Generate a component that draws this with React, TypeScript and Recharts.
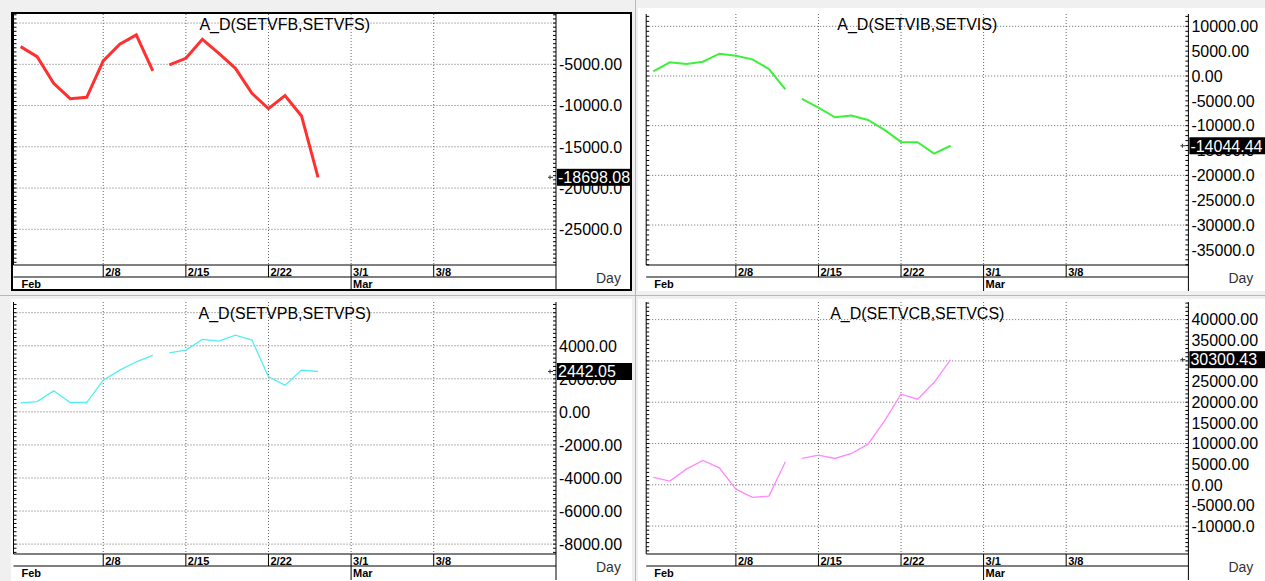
import React from "react";
import { LineChart, Line, XAxis, YAxis, CartesianGrid } from "recharts";

// trading days shown on the charts
const days = ["2/1", "2/2", "2/3", "2/4", "2/5", "2/8", "2/9", "2/10", "2/11", "2/12",
  "2/15", "2/16", "2/17", "2/18", "2/19", "2/22", "2/23", "2/24", "2/25"];

const vfValues = [-2859, -4071, -7303, -9162, -9000, -4596, -2576, -1445, -5808, -5081,
  -4273, -1970, -3667, -5485, -8515, -10373, -8798, -11262, -18698.08];
const viValues = [938, 2747, 2412, 2881, 4489, 4087, 3350, 1407, -2680, -4623,
  -6365, -8308, -7973, -8844, -10854, -13266, -13333, -15611, -14044.44];
const vpValues = [545, 626, 1273, 566, 566, 1919, 2525, 3030, 3414, 3575,
  3737, 4383, 4282, 4646, 4343, 2121, 1616, 2525, 2442.05];
const vcValues = [1774, 887, 3790, 5887, 4113, -1048, -3065, -2742, 5565, 6371,
  7178, 6371, 7581, 9839, 15484, 21936, 20726, 24758, 30300.43];

// line is broken before this day
const BREAK = 9;

const weekTicks = [5, 10, 15, 20, 25];
const weekLabels = ["2/8", "2/15", "2/22", "3/1", "3/8"];
const X_MIN = -0.43;
const X_MAX = 32.4;
const monthTicks = [X_MIN, 20];
const monthLabels = ["Feb", "Mar"];

const vfLabels = [-5000, -10000, -15000, -20000, -25000];
const vfGrid = [0, -5000, -10000, -15000, -20000, -25000];
const viLabels = [10000, 5000, 0, -5000, -10000, -15000, -20000, -25000, -30000, -35000];
const viGrid = [10000, 0, -10000, -20000, -30000];
const vpLabels = [4000, 2000, 0, -2000, -4000, -6000, -8000];
const vpGrid = [6000, 4000, 2000, 0, -2000, -4000, -6000, -8000];
const vcLabels = [40000, 35000, 30000, 25000, 20000, 15000, 10000, 5000, 0, -5000, -10000];
const vcGrid = [40000, 30000, 20000, 10000, 0, -10000];

const AXIS_H = 26;
const FONT = "'Liberation Sans', Arial, sans-serif";

const fmt = (v: number) => v.toFixed(2).slice(0, 8);

function toRows(values: number[]) {
  return days.map((d, i) => ({
    i,
    d,
    a: i < BREAK ? values[i] : null,
    b: i >= BREAK ? values[i] : null,
  }));
}

function Panel(p: any) {
  const plotL = p.marginLeft;
  const plotW = p.width - p.marginLeft - p.axisWidth;
  const plotR = plotL + plotW;
  const plotH = p.height - AXIS_H;
  const last = p.values[p.values.length - 1];

  const minor: number[] = [];
  for (let v = Math.ceil(p.domain[0] / p.minorStep) * p.minorStep; v <= p.domain[1]; v += p.minorStep) minor.push(v);
  const yTicks = [...minor, ...p.labels, last];
  const nMinor = minor.length;
  const nLab = p.labels.length;

  const renderY = (t: any) => {
    const { y, index } = t;
    if (index < nMinor) {
      return (
        <g>
          <line x1={plotL} x2={plotL + 3} y1={y} y2={y} stroke="#000" />
          <line x1={plotR - 3} x2={plotR} y1={y} y2={y} stroke="#000" />
        </g>
      );
    }
    if (index < nMinor + nLab) {
      return (
        <text x={plotR + 3} y={y} dy="0.36em" fontSize={16} fontFamily={FONT} fill="#000">
          {fmt(p.labels[index - nMinor])}
        </text>
      );
    }
    return (
      <g>
        <line x1={plotR - 8} x2={plotR - 3} y1={y} y2={y} stroke="#333" />
        <line x1={plotR - 6} x2={plotR - 6} y1={y - 2} y2={y + 2} stroke="#333" />
        <rect x={plotR + 1} y={y - 8.5} width={p.axisWidth + 4} height={17} fill="#000" />
        <text x={plotR + 2} y={y} dy="0.36em" fontSize={16} fontFamily={FONT} fill="#fff">
          {last.toFixed(2)}
        </text>
      </g>
    );
  };

  const renderX = (t: any) => {
    const { x, payload } = t;
    const v = payload.value;
    const wi = weekTicks.indexOf(v);
    const mi = monthTicks.indexOf(v);
    const y0 = plotH;
    return (
      <g>
        {wi >= 0 && (
          <g>
            <line x1={x} x2={x} y1={y0} y2={y0 + 12} stroke="#000" />
            <text x={x + 2} y={y0 + 11} fontSize={11} fontWeight="bold" fontFamily={FONT} fill="#000">
              {weekLabels[wi]}
            </text>
          </g>
        )}
        {mi > 0 && <line x1={x} x2={x} y1={y0 + 12} y2={y0 + AXIS_H} stroke="#000" />}
        {mi >= 0 && (
          <text x={x + (mi === 0 ? 8 : 2)} y={y0 + 23} fontSize={11} fontWeight="bold" fontFamily={FONT} fill="#000">
            {monthLabels[mi]}
          </text>
        )}
        {mi === 0 && (
          <g>
            <line x1={plotL} x2={plotR} y1={y0 + 12} y2={y0 + 12} stroke="#000" />
            <line x1={plotL} x2={plotL} y1={0} y2={y0} stroke="#000" />
            <line x1={plotR} x2={plotR} y1={y0} y2={y0 + AXIS_H} stroke="#000" />
            <text x={plotR + 40} y={y0 + 18} fontSize={14} fontFamily={FONT} fill="#333">Day</text>
            <text x={plotL + plotW / 2} y={p.titleY} textAnchor="middle" fontSize={16} fontFamily={FONT} fill="#000">
              {p.title}
            </text>
          </g>
        )}
      </g>
    );
  };

  return (
    <div style={{ position: "absolute", left: p.left, top: p.top }}>
      <LineChart width={p.width} height={p.height} data={toRows(p.values)}
        margin={{ top: 0, right: 0, bottom: 0, left: p.marginLeft }}>
        <CartesianGrid yAxisId="r" stroke="#666" strokeDasharray="1 2"
          horizontalValues={p.grid} verticalValues={weekTicks} />
        <XAxis dataKey="i" type="number" domain={[X_MIN, X_MAX]} allowDataOverflow
          ticks={[X_MIN, ...weekTicks]} interval={0} tick={renderX} tickLine={false}
          axisLine={{ stroke: "#000" }} height={AXIS_H} />
        <YAxis yAxisId="r" orientation="right" type="number" width={p.axisWidth}
          domain={p.domain} allowDataOverflow ticks={yTicks} interval={0} tick={renderY}
          tickLine={false} axisLine={{ stroke: "#000" }} />
        <Line yAxisId="r" dataKey="a" stroke={p.color} strokeWidth={p.strokeWidth} dot={false}
          isAnimationActive={false} connectNulls={false} />
        <Line yAxisId="r" dataKey="b" stroke={p.color} strokeWidth={p.strokeWidth} dot={false}
          isAnimationActive={false} connectNulls={false} />
      </LineChart>
    </div>
  );
}

export default function App() {
  return (
    <div style={{ position: "absolute", left: 0, top: 0, width: 1265, height: 581, background: "#f0f0f0", overflow: "hidden" }}>
      <div style={{ position: "absolute", left: 635, top: 0, width: 1, height: 581, background: "#b8b8b8" }} />
      <div style={{ position: "absolute", left: 0, top: 295, width: 1265, height: 1, background: "#b8b8b8" }} />
      <div style={{ position: "absolute", left: 638, top: 8, width: 627, height: 283, background: "#fff" }} />
      <div style={{ position: "absolute", left: 11, top: 299, width: 621, height: 282, background: "#fff" }} />
      <div style={{ position: "absolute", left: 638, top: 299, width: 627, height: 282, background: "#fff" }} />
      <div style={{ position: "absolute", left: 11, top: 12, width: 621, height: 279, background: "#fff" }} />

      <Panel left={13} top={14} width={617} height={277} marginLeft={0.5} axisWidth={74}
        title="A_D(SETVFB,SETVFS)" titleY={16} values={vfValues} color="#ff3030" strokeWidth={3}
        domain={[-29327, 1097]} labels={vfLabels} grid={vfGrid} minorStep={500} />
      <Panel left={638} top={14} width={627} height={277} marginLeft={8.2} axisWidth={76.6}
        title="A_D(SETVIB,SETVIS)" titleY={16} values={viValues} color="#3cf03c" strokeWidth={2}
        domain={[-38043, 12480]} labels={viLabels} grid={viGrid} minorStep={1000} />
      <Panel left={11} top={302} width={621} height={278} marginLeft={2.5} axisWidth={76}
        title="A_D(SETVPB,SETVPS)" titleY={17} values={vpValues} color="#55eef0" strokeWidth={1.3}
        domain={[-8598, 6647]} labels={vpLabels} grid={vpGrid} minorStep={250} />
      <Panel left={638} top={302} width={627} height={278} marginLeft={8.2} axisWidth={76.6}
        title="A_D(SETVCB,SETVCS)" titleY={17} values={vcValues} color="#ff88ff" strokeWidth={1.3}
        domain={[-16763, 44267]} labels={vcLabels} grid={vcGrid} minorStep={1000} />

      <div style={{ position: "absolute", left: 11, top: 12, width: 621, height: 279, border: "2px solid #000", boxSizing: "border-box", pointerEvents: "none" }} />
    </div>
  );
}
